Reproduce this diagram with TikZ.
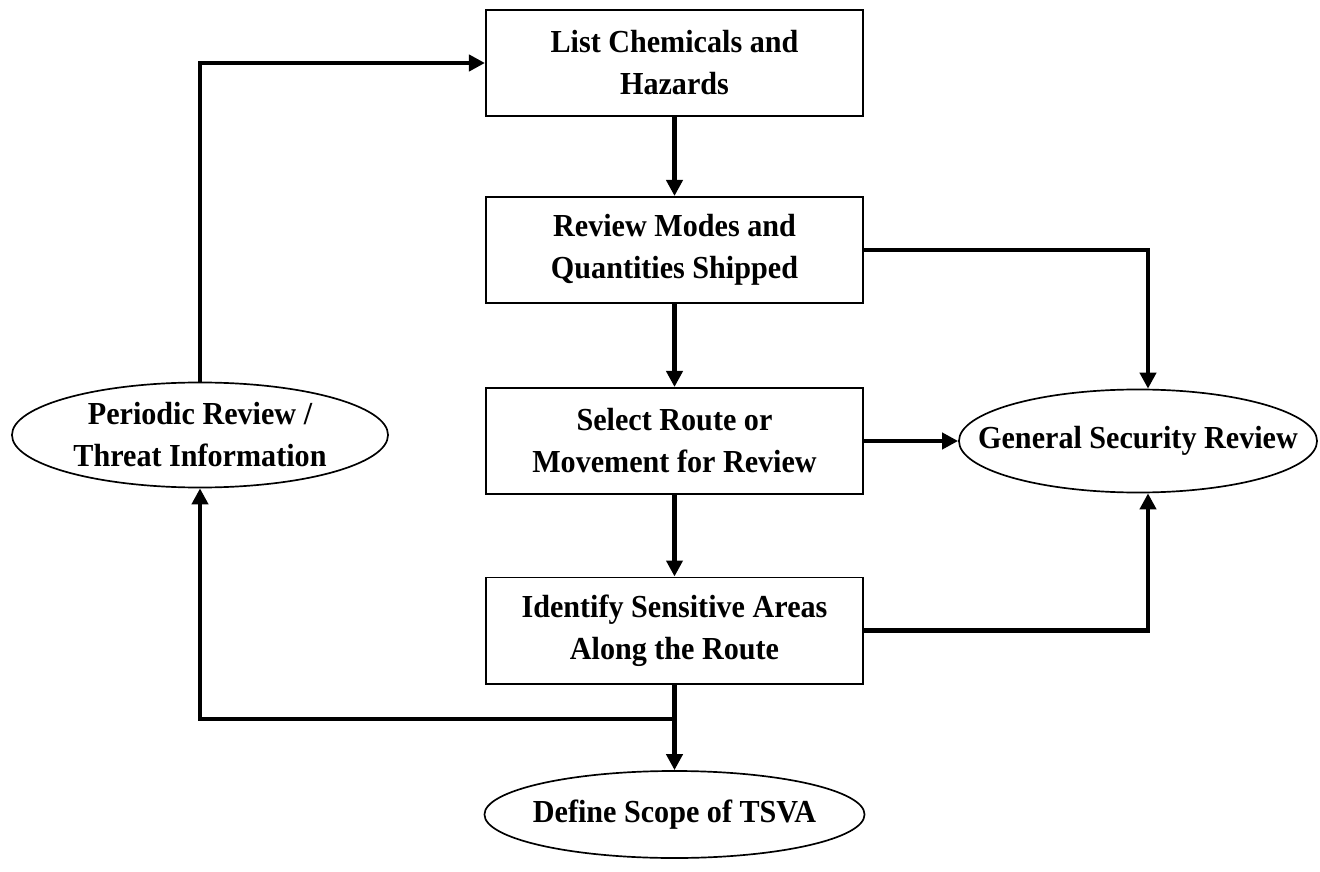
\documentclass[tikz,border=0pt]{standalone}
\usepackage{fontspec}
\setmainfont{Liberation Serif}[FakeStretch=0.94]
\usetikzlibrary{shapes.geometric,arrows.meta}
\tikzset{
  stepbox/.style={draw, line width=1.4pt, minimum width=9.425cm, minimum height=2.65cm,
    inner sep=0pt, align=center, font=\bfseries\fontsize{22.8}{29.9}\selectfont},
  oval/.style={draw, ellipse, line width=1.2pt, inner xsep=-1.5cm, inner ysep=0pt,
    align=center, font=\bfseries\fontsize{22.8}{29.9}\selectfont},
  flow/.style={line width=3pt, -{Triangle[length=0.4cm,width=0.4cm]}}
}
\begin{document}
\begin{tikzpicture}[x=0.025cm, y=-0.025cm]
    \useasboundingbox (0, 0) rectangle (1320, 872);
    % process boxes
    \node [stepbox] (list) at (674.5, 63) {List Chemicals and\\Hazards};
    \node [stepbox] (modes) at (674.5, 250) {Review Modes and\\Quantities Shipped};
    \node [stepbox] (route) at (674.5, 441) {Select Route or\\Movement for Review};
    \node [stepbox] (areas) at (674.5, 630.5) {Identify Sensitive Areas\\Along the Route};
    % ellipses
    \node [oval, minimum width=9.4cm, minimum height=2.625cm] (periodic) at (200, 435) {Periodic Review /\\Threat Information};
    \node [oval, minimum width=8.95cm, minimum height=2.575cm] (general) at (1138, 441) {General Security Review};
    \node [oval, minimum width=9.5cm, minimum height=2.175cm] (scope) at (674.5, 814.5) {Define Scope of TSVA};
    \coordinate (split) at (674.5, 719);
    % connectors
    \draw [flow] (list) -- (modes);
    \draw [flow] (modes) -- (route);
    \draw [flow] (route) -- (areas);
    \draw [flow] (areas) -- (scope);
    \draw [flow] (route) -- (general);
    \draw [flow] (modes.east) -| ([xshift=0.25cm]general.north);
    \draw [flow] (areas.east) -| ([xshift=0.25cm]general.south);
    \draw [flow] (split) -| (periodic.south);
    \draw [flow] (periodic.north) |- (list.west);
  \end{tikzpicture}
\end{document}
